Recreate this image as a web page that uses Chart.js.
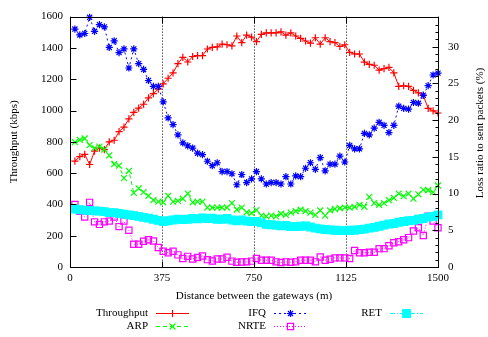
<!DOCTYPE html>
<html>
<head>
<meta charset="utf-8">
<script src="https://cdn.jsdelivr.net/npm/chart.js@4.4.1/dist/chart.umd.min.js"></script>
<style>
  html, body { margin: 0; padding: 0; background: #fff; }
  canvas { display: block; }
</style>
</head>
<body>
<canvas id="chart" width="488" height="337"></canvas>
<script>
// Distance between the gateways (m)
const distance = [20, 40, 60, 80, 100, 120, 140, 160, 180, 200,
    220, 240, 260, 280, 300, 320, 340, 360, 380, 400,
    420, 440, 460, 480, 500, 520, 540, 560, 580, 600,
    620, 640, 660, 680, 700, 720, 740, 760, 780, 800,
    820, 840, 860, 880, 900, 920, 940, 960, 980, 1000,
    1020, 1040, 1060, 1080, 1100, 1120, 1140, 1160, 1180, 1200,
    1220, 1240, 1260, 1280, 1300, 1320, 1340, 1360, 1380, 1400,
    1420, 1440, 1460, 1480, 1500];

// Throughput (kbps), left axis
const throughput = [677, 705, 720, 655, 740, 760, 750, 800, 810, 865,
    894, 946, 988, 1015, 1040, 1081, 1108, 1137, 1170, 1206,
    1240, 1299, 1340, 1310, 1345, 1351, 1351, 1393, 1403, 1407,
    1424, 1420, 1413, 1476, 1434, 1482, 1469, 1440, 1486, 1496,
    1496, 1496, 1503, 1482, 1496, 1476, 1461, 1444, 1430, 1465,
    1424, 1465, 1440, 1434, 1409, 1420, 1372, 1361, 1361, 1309,
    1295, 1289, 1258, 1268, 1275, 1241, 1154, 1158, 1154, 1129,
    1113, 1096, 1013, 998, 984];

// Loss ratios (%), right axis
const arp = [17.0, 17.3, 17.5, 16.6, 16.2, 16.4, 16.0, 15.2, 14.0, 13.8,
    12.1, 13.1, 10.1, 10.7, 10.2, 9.7, 9.1, 8.9, 8.8, 9.7,
    8.9, 9.0, 9.3, 10.0, 8.8, 8.9, 8.9, 8.1, 8.1, 8.1,
    8.1, 8.1, 8.7, 7.8, 8.1, 7.45, 7.35, 7.75, 7.0, 6.9,
    7.0, 6.9, 7.25, 7.1, 7.4, 7.6, 7.8, 7.6, 7.4, 7.1,
    7.7, 7.0, 7.7, 7.9, 8.0, 8.1, 8.1, 8.2, 8.45, 8.2,
    9.55, 8.7, 8.45, 8.7, 9.1, 9.4, 10.0, 9.65, 10.0, 9.3,
    9.9, 10.5, 10.45, 10.2, 11.1];

const ifq = [32.4, 31.6, 31.8, 34.0, 32.1, 33.0, 32.7, 29.9, 30.8, 29.2,
    29.7, 27.1, 29.7, 27.7, 26.9, 25.4, 24.6, 24.6, 22.5, 20.3,
    19.4, 18.0, 16.9, 16.5, 16.2, 15.5, 15.3, 14.4, 13.8, 14.2,
    13.0, 13.0, 12.7, 11.2, 12.6, 11.5, 12.0, 13.0, 12.0, 11.3,
    11.5, 11.5, 11.3, 12.3, 11.3, 12.4, 12.3, 13.45, 14.2, 13.3,
    14.9, 13.1, 14.0, 14.0, 15.1, 14.3, 16.55, 16.1, 16.1, 18.2,
    18.0, 18.9, 19.7, 19.3, 18.3, 19.3, 21.9, 21.6, 21.5, 22.4,
    22.3, 23.4, 24.7, 26.15, 26.4];

const nrte = [8.5, 7.6, 6.8, 8.8, 6.15, 5.8, 6.15, 6.25, 6.8, 5.5,
    6.25, 5.0, 3.1, 3.1, 3.5, 3.7, 3.55, 2.65, 2.15, 1.95,
    2.15, 1.65, 1.15, 1.45, 1.1, 1.3, 1.5, 1.0, 0.82, 1.1,
    1.08, 1.33, 0.8, 0.65, 0.68, 0.7, 0.8, 1.15, 0.93, 0.93,
    0.93, 0.7, 0.62, 0.7, 0.65, 0.7, 0.93, 0.93, 0.93, 0.7,
    1.37, 0.93, 1.06, 1.24, 1.24, 1.24, 1.15, 2.25, 1.95, 1.95,
    2.0, 2.0, 2.5, 2.5, 2.9, 3.3, 3.45, 3.7, 4.0, 4.9,
    5.35, 4.3, 6.9, 6.25, 5.35];

const ret = [7.9, 7.8, 7.75, 7.7, 7.65, 7.6, 7.55, 7.4, 7.4, 7.3,
    7.2, 7.1, 7.0, 6.9, 6.75, 6.65, 6.5, 6.35, 6.2, 6.3,
    6.4, 6.5, 6.45, 6.5, 6.6, 6.55, 6.7, 6.6, 6.65, 6.5,
    6.5, 6.6, 6.4, 6.3, 6.4, 6.25, 6.2, 6.2, 6.0, 5.8,
    5.75, 5.7, 5.6, 5.65, 5.5, 5.5, 5.55, 5.6, 5.45, 5.3,
    5.2, 5.1, 5.05, 5.0, 4.95, 4.95, 5.0, 5.0, 5.1, 5.15,
    5.3, 5.4, 5.55, 5.7, 5.85, 5.9, 6.1, 6.2, 6.3, 6.35,
    6.5, 6.6, 6.8, 6.9, 7.1];

// Axis ticks
const xTickStep = 375;
const yTickStep = 200;
const y2TickStep = 5;

const SERIF = '"Liberation Serif", "Times New Roman", serif';
Chart.defaults.font.family = SERIF;
Chart.defaults.font.size = 11;
Chart.defaults.color = '#000';

function toPoints(values) {
    return distance.map((d, i) => ({ x: d, y: values[i] }));
}

function series(label, values, axis, color, style, radius, dash, fill, order) {
    return {
        label: label,
        data: toPoints(values),
        yAxisID: axis,
        borderColor: color,
        borderWidth: 1,
        borderDash: dash,
        pointStyle: style,
        pointRadius: radius,
        pointHoverRadius: radius,
        pointBorderColor: color,
        pointBackgroundColor: fill ? color : 'rgba(0,0,0,0)',
        pointBorderWidth: 1.2,
        tension: 0,
        fill: false,
        clip: false,
        order: order
    };
}

// Box, inward tick marks, right title and gnuplot style key
const gnuplotFrame = {
    id: 'gnuplotFrame',
    afterDraw(chart) {
        const ctx = chart.ctx;
        const a = chart.chartArea;
        const L = Math.round(a.left) + 0.5, R = Math.round(a.right) + 0.5;
        const T = Math.round(a.top) + 0.5, B = Math.round(a.bottom) + 0.5;
        ctx.save();
        ctx.setLineDash([]);
        ctx.strokeStyle = '#000';
        ctx.lineWidth = 1;
        ctx.strokeRect(L, T, R - L, B - T);

        ctx.beginPath();
        chart.scales.y.ticks.forEach(t => {
            const py = Math.round(chart.scales.y.getPixelForValue(t.value)) + 0.5;
            ctx.moveTo(L, py); ctx.lineTo(L + 6, py);
        });
        const y2 = chart.scales.y2;
        for (let v = 0; v <= y2.max; v += 1) {
            const py = Math.round(y2.getPixelForValue(v)) + 0.5;
            const len = v % y2TickStep === 0 ? 6 : 3;
            ctx.moveTo(R, py); ctx.lineTo(R - len, py);
        }
        chart.scales.x.ticks.forEach(t => {
            const px = Math.round(chart.scales.x.getPixelForValue(t.value)) + 0.5;
            ctx.moveTo(px, B); ctx.lineTo(px, B - 6);
            ctx.moveTo(px, T); ctx.lineTo(px, T + 6);
        });
        ctx.stroke();

        // right axis title, reading bottom to top
        ctx.fillStyle = '#000';
        ctx.font = '11px ' + SERIF;
        ctx.textAlign = 'center';
        ctx.textBaseline = 'middle';
        ctx.save();
        ctx.translate(480, 133);
        ctx.rotate(-Math.PI / 2);
        ctx.fillText('Loss ratio to sent packets (%)', 0, 0);
        ctx.restore();

        // key
        const key = [
            { ds: 0, right: 148, y: 313 },
            { ds: 1, right: 148, y: 326 },
            { ds: 2, right: 266, y: 313 },
            { ds: 3, right: 266, y: 326 },
            { ds: 4, right: 382, y: 313 }
        ];
        key.forEach(k => {
            const ds = chart.data.datasets[k.ds];
            ctx.fillStyle = '#000';
            ctx.textAlign = 'right';
            ctx.fillText(ds.label, k.right, k.y);
            const x0 = k.right + 8, x1 = k.right + 41;
            ctx.beginPath();
            ctx.setLineDash(ds.borderDash);
            ctx.strokeStyle = ds.borderColor;
            ctx.lineWidth = 1;
            ctx.moveTo(x0, k.y + 0.5); ctx.lineTo(x1, k.y + 0.5);
            ctx.stroke();
            ctx.setLineDash([]);
            ctx.fillStyle = ds.pointBackgroundColor;
            ctx.strokeStyle = ds.pointBorderColor;
            ctx.lineWidth = ds.pointBorderWidth;
            Chart.helpers.drawPoint(ctx, {
                pointStyle: ds.pointStyle, radius: ds.pointRadius,
                rotation: 0, borderWidth: ds.pointBorderWidth
            }, (x0 + x1) / 2, k.y + 0.5);
        });
        ctx.restore();
    }
};

new Chart(document.getElementById('chart'), {
    type: 'line',
    data: {
        datasets: [
            series('Throughput', throughput, 'y', '#ff0000', 'cross', 3.6, [], false, 4),
            series('ARP', arp, 'y2', '#00ff00', 'crossRot', 4.2, [4, 3], false, 3),
            series('IFQ', ifq, 'y2', '#0000ff', 'star', 3.6, [2, 3], false, 2),
            series('NRTE', nrte, 'y2', '#ff00ff', 'rect', 4.4, [1, 2], false, 1),
            series('RET', ret, 'y2', '#00ffff', 'rect', 5.4, [5, 2, 1, 2], true, 0)
        ]
    },
    options: {
        responsive: false,
        animation: false,
        events: [],
        layout: { padding: { top: 10, bottom: 34, left: 0, right: 0 } },
        plugins: {
            legend: { display: false },
            tooltip: { enabled: false }
        },
        scales: {
            x: {
                type: 'linear',
                position: 'bottom',
                min: 0,
                max: 1500,
                ticks: {
                    stepSize: xTickStep,
                    autoSkip: false,
                    maxRotation: 0,
                    padding: 5,
                    callback: v => String(v)
                },
                grid: { color: '#000', lineWidth: 1, drawTicks: false },
                border: { display: false, dash: [1, 2] },
                title: {
                    display: true,
                    text: 'Distance between the gateways (m)',
                    padding: { top: 0, bottom: 0 }
                },
                afterFit(scale) { scale.height = 36; }
            },
            y: {
                position: 'left',
                min: 0,
                max: 1600,
                ticks: { stepSize: yTickStep, padding: 7, callback: v => String(v) },
                grid: { display: false, drawTicks: false },
                border: { display: false },
                title: {
                    display: true,
                    text: 'Throughput (kbps)',
                    padding: { top: 8, bottom: 0 }
                },
                afterFit(scale) { scale.width = 70; }
            },
            y2: {
                position: 'right',
                min: 0,
                max: 34.1,
                ticks: { stepSize: y2TickStep, padding: 10, callback: v => String(v) },
                afterBuildTicks(scale) {
                    scale.ticks = scale.ticks.filter(t => Math.abs(t.value % y2TickStep) < 1e-6);
                },
                grid: { display: false, drawTicks: false },
                border: { display: false },
                afterFit(scale) { scale.width = 50; }
            }
        }
    },
    plugins: [gnuplotFrame]
});
</script>
</body>
</html>
